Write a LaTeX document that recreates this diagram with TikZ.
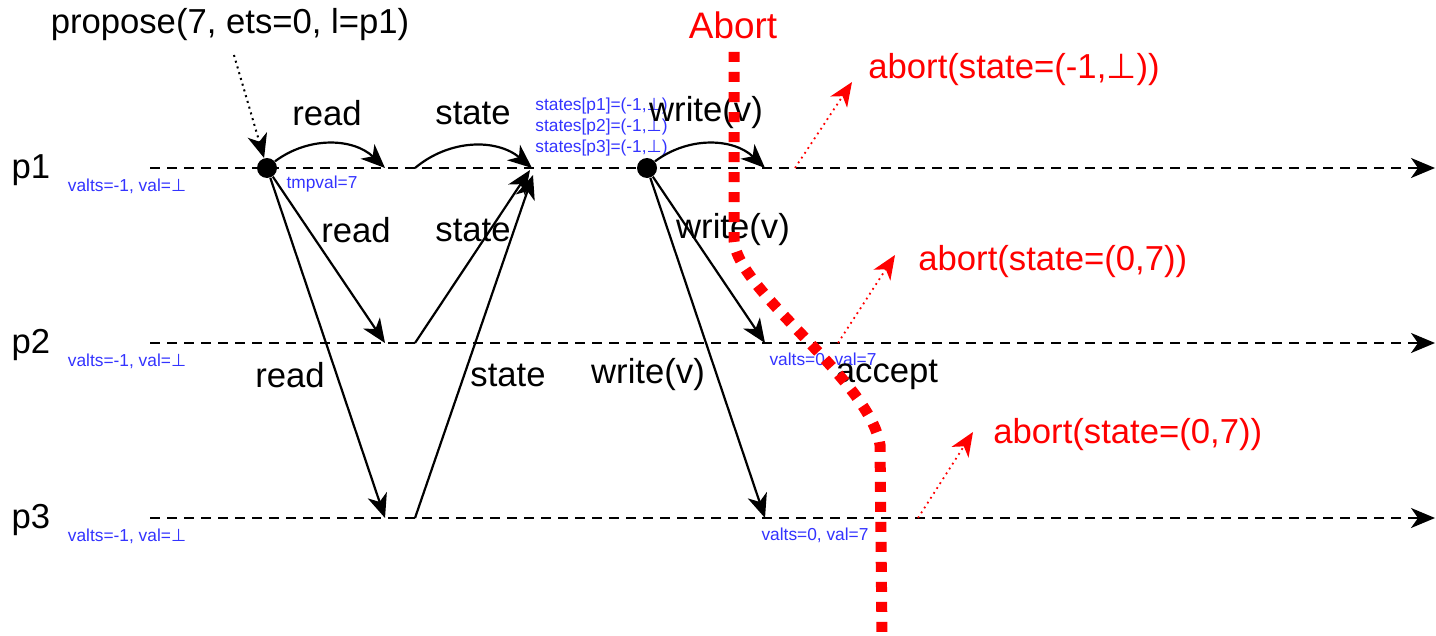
\documentclass[tikz,border=0pt]{standalone}
\usepackage{fontspec}
\setmainfont{Liberation Sans}
\newfontfamily\symfont{DejaVu Sans}
\usetikzlibrary{arrows.meta,positioning}
\definecolor{note}{RGB}{51,51,255}
\colorlet{abortc}{red}
\newcommand{\bt}{{\symfont ⊥}}

\begin{document}
\begin{tikzpicture}[
    x=0.5bp, y=-0.5bp,
    >={Stealth[length=12bp,width=10bp,inset=3.5bp]},
    life/.style={->,dash pattern=on 5bp off 3.5bp,line width=1.1bp},
    msg/.style={->,line width=1.1bp},
    dot/.style={circle,fill,inner sep=0,minimum size=10bp},
    lbl/.style={inner sep=0,font=\fontsize{17.4}{20}\selectfont},
    note/.style={inner sep=0,text=note,font=\fontsize{8.7}{10.5}\selectfont},
    abortlbl/.style={lbl,text=abortc},
    abortarr/.style={->,abortc,dotted,line width=0.9bp},
    cut/.style={abortc,line width=5.5bp,dash pattern=on 5bp off 5bp},
  ]
  \useasboundingbox (0,0) rectangle (1436,636);
  %
  \foreach \p/\y in {1/168,2/343,3/518} {
    \node (p\p) at (31,\y+2) [lbl] {p\p};
    \coordinate (s\p) at (150,\y);
    \coordinate (e\p) at (1435,\y);
    \draw [life] (s\p) -- (e\p);
    \node (v\p) at (127,\y+18) [note] {valts=-1, val=\bt};
  }
  %
  \node (prop) at (230,25) [lbl] {propose(7, ets=0, l=p1)};
  \node (d1) at (267,168) [dot] {};
  \draw [->,dotted,line width=1bp,shorten <=7bp] (prop.south) -- (d1);
  \node (tmp) at (322,184) [note] {tmpval=7};
  %
  \coordinate (r1) at (385,168);
  \coordinate (r2) at (385,343);
  \coordinate (r3) at (385,518);
  \draw [msg] (d1) to [bend left=40] (r1);
  \draw [msg] (d1) -- (r2);
  \draw [msg] (d1) -- (r3);
  \node (lr1) at (327,113) [lbl] {read};
  \node (lr2) at (356,230) [lbl] {read};
  \node (lr3) at (290,375) [lbl] {read};
  %
  \coordinate (t1) at (415,168);
  \coordinate (t2) at (415,343);
  \coordinate (t3) at (415,518);
  \coordinate (u1) at (532,168);
  \coordinate (u2) at (530,170);
  \coordinate (u3) at (533,175);
  \draw [msg] (t1) to [bend left=40] (u1);
  \draw [msg] (t2) -- (u2);
  \draw [msg] (t3) -- (u3);
  \node (ls1) at (473,113) [lbl] {state};
  \node (ls2) at (473,230) [lbl] {state};
  \node (ls3) at (508,375) [lbl] {state};
  \node (st) at (535,127) [note,anchor=west,align=left]
    {states[p1]=(-1,\bt)\\states[p2]=(-1,\bt)\\states[p3]=(-1,\bt)};
  %
  \node (d2) at (647,168) [dot] {};
  \coordinate (w1) at (765,168);
  \coordinate (w2) at (765,343);
  \coordinate (w3) at (765,518);
  \draw [msg] (d2) to [bend left=40] (w1);
  \draw [msg] (d2) -- (w2);
  \draw [msg] (d2) -- (w3);
  \node (lw1) at (706,113) [lbl] {write(v)};
  \node (lw2) at (733,230) [lbl] {write(v)};
  \node (lw3) at (648,375) [lbl] {write(v)};
  \node (v4) at (823,360) [note] {valts=0, val=7};
  \node (v5) at (815,535) [note] {valts=0, val=7};
  \node (acc) at (887,375) [lbl] {accept};
  %
  \node (abort) at (733,25) [abortlbl,font=\fontsize{18.5}{21}\selectfont] {Abort};
  \coordinate (c0) at (734,52);
  \coordinate (c1) at (734,240);
  \coordinate (c2) at (880,445);
  \coordinate (c3) at (882,636);
  \draw [cut] (c0) -- (c1) .. controls (736,290) and (870,380) .. (c2) -- (c3);
  %
  \coordinate (a1) at (795,168);
  \coordinate (a2) at (838,343);
  \coordinate (a3) at (918,518);
  \coordinate (b1) at (852,82);
  \coordinate (b2) at (895,255);
  \coordinate (b3) at (973,432);
  \draw [abortarr] (a1) -- (b1);
  \draw [abortarr] (a2) -- (b2);
  \draw [abortarr] (a3) -- (b3);
  \node (ab1) at (868,70) [abortlbl,anchor=west] {abort(state=(-1,\bt))};
  \node (ab2) at (918,262) [abortlbl,anchor=west] {abort(state=(0,7))};
  \node (ab3) at (993,435) [abortlbl,anchor=west] {abort(state=(0,7))};
\end{tikzpicture}
\end{document}
